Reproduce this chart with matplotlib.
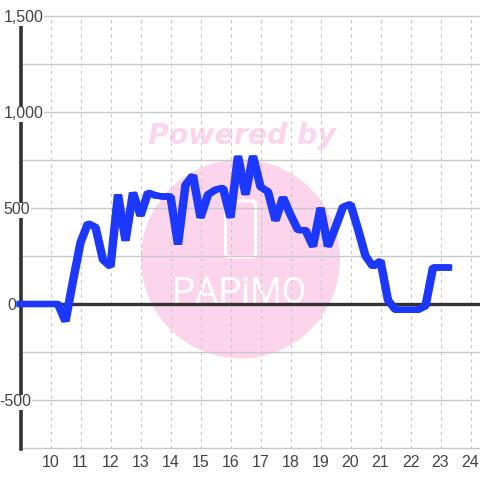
import matplotlib
matplotlib.use('Agg')
import matplotlib.pyplot as plt
import matplotlib.patheffects as pe
from matplotlib.patches import Circle, FancyBboxPatch
from matplotlib.transforms import IdentityTransform

hours = [9, 9.25, 9.5, 9.75, 10, 10.25, 10.5, 10.75, 11, 11.25, 11.5, 11.75,
         12, 12.25, 12.5, 12.75, 13, 13.25, 13.5, 13.75, 14, 14.25, 14.5, 14.75,
         15, 15.25, 15.5, 15.75, 16, 16.25, 16.5, 16.75, 17, 17.25, 17.5, 17.75,
         18, 18.25, 18.5, 18.75, 19, 19.25, 19.5, 19.75, 20, 20.25, 20.5, 20.75,
         21, 21.25, 21.5, 21.75, 22, 22.25, 22.5, 22.75, 23, 23.25]
power = [0, 0, 0, 0, 0, 0, -90, 120, 320, 420, 400, 230,
         195, 570, 330, 580, 460, 580, 565, 560, 560, 310, 620, 670,
         450, 570, 595, 605, 450, 770, 570, 770, 610, 585, 435, 555,
         465, 385, 385, 300, 500, 300, 400, 505, 520, 390, 250, 195,
         225, 20, -30, -30, -30, -30, -10, 190, 190, 190]

x_ticks = list(range(10, 25))
y_grid = [-750, -500, -250, 0, 250, 500, 750, 1000, 1250, 1500]
y_labels = {1500: '1,500', 1000: '1,000', 500: '500', 0: '0', -500: '-500'}
label_right = {1500: 43.5, 1000: 43.5, 500: 30.5, 0: 16.5, -500: 31.5}

TEXT = '#444444'
GRID = '#c8c8c8'
DARK = '#333333'
BLUE = '#1c38ff'
PINK = '#fcd5ec'
plt.rcParams['font.family'] = ['Liberation Sans', 'DejaVu Sans']

fig = plt.figure(figsize=(4.8, 4.8), dpi=100)
ax = fig.add_axes([20.5 / 480, 31.5 / 480, 459.5 / 480, 432.5 / 480], zorder=1)
ax.patch.set_visible(False)
ax.set_xlim(9, 9 + 459.5 / 30)
ax.set_ylim(1500 - 432.5 / 0.192, 1500)

#
# Watermark, drawn in pixels under the axes
#
px = IdentityTransform()
fig.add_artist(Circle((240.5, 480 - 259), 99.5, transform=px, fc=PINK, ec='none', zorder=0))
fig.add_artist(FancyBboxPatch((225.5, 480 - 257), 30, 56, boxstyle='round,pad=0,rounding_size=4',
                              transform=px, fc='none', ec='white', lw=2.2, zorder=0))
fig.text(241.5, 480 - 136, 'Powered by', transform=px, color=PINK, ha='center', va='center',
         fontsize=20.4, family='DejaVu Sans', fontweight='bold', fontstyle='oblique', zorder=0)
fig.text(239, 480 - 303, 'PAPiMO', transform=px, color='white', ha='center', va='baseline',
         fontsize=26, family='Roboto', zorder=0)

#
# Grid and axes
#
for y in y_grid:
    ax.axhline(y, color=GRID, lw=1.0, zorder=1, clip_on=False)
for x in x_ticks:
    ax.axvline(x, color=GRID, lw=0.8, ls=(0, (3, 3.5)), zorder=1)
ax.axhline(0, color=DARK, lw=2.4, zorder=2)
ax.axvline(9, color=DARK, lw=2.6, zorder=2, clip_on=False)

for s in ax.spines.values():
    s.set_visible(False)
ax.set_yticks([])
ax.set_xticks(x_ticks)
ax.set_xticklabels([str(t) for t in x_ticks])
ax.tick_params(axis='x', length=0, pad=5, labelsize=11.5, labelcolor=TEXT)

for val, lab in y_labels.items():
    ax.annotate(lab, xy=(0, val), xycoords=ax.get_yaxis_transform(),
                xytext=(label_right[val] - 20.5, -2), textcoords='offset pixels',
                ha='right', va='center', fontsize=11.5, color=TEXT, zorder=3,
                annotation_clip=False,
                bbox=dict(fc='white', ec='none', pad=0) if val != 0 else None)

# the stroke in the original is wider across than it is tall
ax.plot(hours, power, color=BLUE, lw=4.5, zorder=4, clip_on=False,
        solid_joinstyle='bevel', solid_capstyle='projecting',
        path_effects=[pe.Stroke(offset=(-0.8, 0)), pe.Stroke(offset=(0.8, 0)), pe.Normal()])

plt.savefig('out.png', dpi=100)
